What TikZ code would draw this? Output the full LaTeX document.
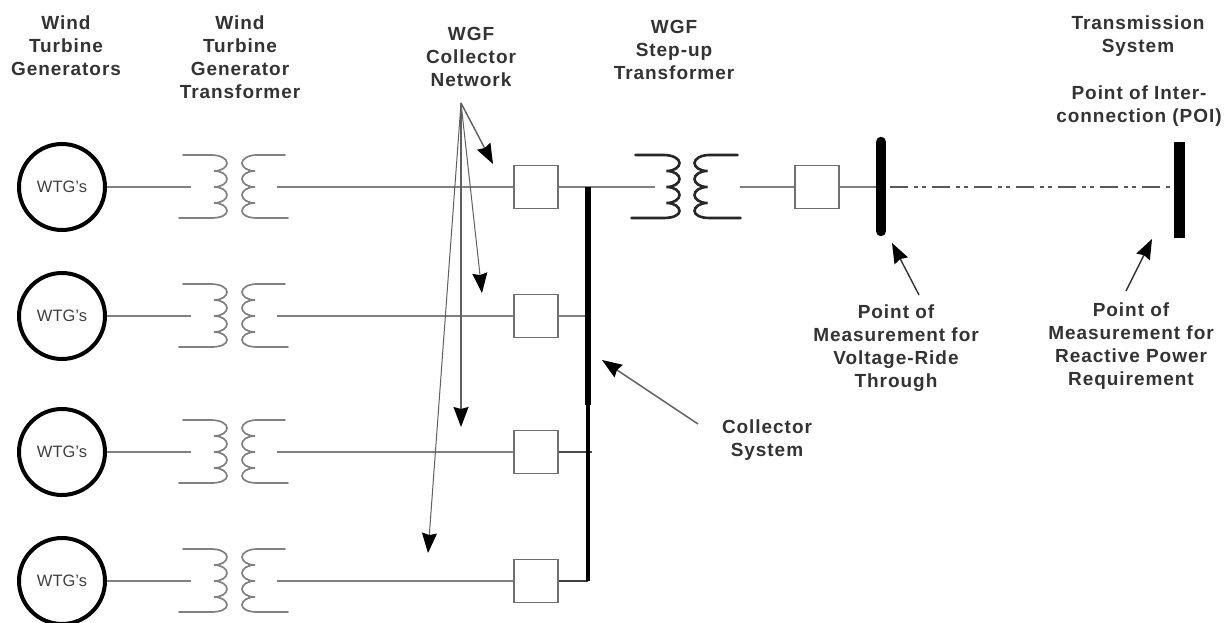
\documentclass[tikz,border=0pt]{standalone}
\usepackage{fontspec}
\setmainfont{Liberation Sans}
\newfontfamily\labelfont[LetterSpace=5]{Liberation Sans Bold}
\usetikzlibrary{arrows.meta}
\definecolor{txt}{HTML}{333333}
\definecolor{wire}{HTML}{808080}
\definecolor{boxline}{HTML}{707070}
\definecolor{arr}{HTML}{606060}
\tikzset{
  lab/.style={align=center,text=txt,font=\labelfont\fontsize{19}{23}\selectfont,inner sep=0pt},
  wtg/.style={circle,draw=black,line width=4pt,minimum size=86pt,inner sep=0pt,text=black!75,font=\fontsize{16.5}{18}\selectfont},
  brk/.style={draw=boxline,line width=1.8pt,fill=white,minimum width=44pt,minimum height=43pt,inner sep=0pt},
  wire line/.style={draw=wire,line width=1.8pt},
  pointer/.style={draw=arr,line width=1.4pt,-{Stealth[length=20pt,width=15pt,inset=2pt,color=black]}},
  thin pointer/.style={pointer,line width=1pt},
  coil/.pic={
    \draw[line cap=round,pic actions]
      (-52,-32) -- (-24,-32)
      .. controls (-14,-32) and (-8,-28) .. (-8,-24)
      .. controls (-8,-20) and (-13,-16) .. (-21,-16)
      .. controls (-13,-16) and (-8,-12) .. (-8,-8)
      .. controls (-8,-4) and (-13,0) .. (-21,0)
      .. controls (-13,0) and (-8,4) .. (-8,8)
      .. controls (-8,12) and (-13,16) .. (-21,16)
      .. controls (-13,16) and (-8,20) .. (-8,24)
      .. controls (-8,28) and (-14,31) .. (-24,31)
      -- (-56,31);
    \draw[line cap=round,pic actions]
      (50,-32) -- (22,-32)
      .. controls (13,-32) and (7,-28) .. (7,-24)
      .. controls (7,-20) and (12,-16) .. (20,-16)
      .. controls (12,-16) and (7,-12) .. (7,-8)
      .. controls (7,-4) and (12,0) .. (20,0)
      .. controls (12,0) and (7,4) .. (7,8)
      .. controls (7,12) and (12,16) .. (20,16)
      .. controls (12,16) and (7,20) .. (7,24)
      .. controls (7,28) and (13,31) .. (22,31)
      -- (53,31);
  },
  small coil/.style={draw=wire,line width=1.7pt},
  big coil/.style={draw=black!85,line width=2.6pt}
}
\begin{document}
\begin{tikzpicture}[x=1pt,y=-1pt]
\useasboundingbox[fill=white] (0,0) rectangle (1229,623);

% rows
\foreach \n/\y in {1/187,2/316,3/452,4/581}{
  \node[wtg] (g\n) at (62,\y) {WTG's};
  \pic[small coil] at (235,\y) {coil};
  \coordinate (ti\n) at (191,\y);
  \coordinate (to\n) at (277,\y);
  \node[brk] (b\n) at (536,\y) {};
  \coordinate (c\n) at (588,\y);
  \draw[wire line] (g\n.east) -- (ti\n);
  \draw[wire line] (to\n) -- (b\n.west);
}
\coordinate (cm) at (588,405);
\coordinate (c3s) at (592,452);

% step-up path
\pic[big coil] at (687.5,187) {coil};
\coordinate (si) at (655,187);
\coordinate (so) at (740,187);
\node[brk] (b5) at (817,187) {};
\coordinate (v) at (881,187);
\coordinate (vr) at (890,187);
\coordinate (p) at (1179,187);
\coordinate (pl) at (1172,187);
\coordinate (vt) at (881,142);
\coordinate (vb) at (881,231);
\coordinate (pt) at (1179,142);
\coordinate (pb) at (1179,238);

\draw[wire line] (b1.east) -- (si);
\draw[wire line] (b2.east) -- (c2);
\draw[wire line,draw=black!70] (b3.east) -- (c3s);
\draw[wire line,draw=black!75] (b4.east) -- (c4);
\draw[wire line] (so) -- (b5.west);
\draw[wire line] (b5.east) -- (v);
\draw[draw=black!65,line width=2.4pt,dash pattern=on 18pt off 6pt on 4pt off 4pt on 4pt off 6pt] (vr) -- (pl);

% buses
\draw[black,line width=6pt] (c1) -- (cm);
\draw[black,line width=4.5pt] (cm) -- (c4);
\draw[black,line width=10.5pt,line cap=round] (vt) -- (vb);
\draw[black,line width=11pt] (pt) -- (pb);

% labels
\node[lab] (l1) at (66,46) {Wind\\Turbine\\Generators};
\node[lab] (l2) at (240,57) {Wind\\Turbine\\Generator\\Transformer};
\node[lab] (l3) at (471,57) {WGF\\Collector\\Network};
\node[lab] (l4) at (674,50) {WGF\\Step-up\\Transformer};
\node[lab] (l5) at (1138,36) {Transmission\\System};
\node[lab] (l6) at (1139,106) {Point of Inter-\\connection (POI)};
\node[lab] (l7) at (896,348) {Point of\\Measurement for\\Voltage-Ride\\Through};
\node[lab] (l8) at (1131,346) {Point of\\Measurement for\\Reactive Power\\Requirement};
\node[lab] (l9) at (767,440) {Collector\\System};

% pointers
\coordinate (o) at (461,103);
\coordinate (a1) at (493,164);
\coordinate (a2) at (482,293);
\coordinate (a3) at (461,427);
\coordinate (a4) at (428,553);
\draw[pointer] (o) -- (a1);
\draw[thin pointer] (o) -- (a2);
\draw[pointer] (o) -- (a3);
\draw[thin pointer] (o) -- (a4);
\coordinate (cs) at (698,424);
\coordinate (ce) at (602,360);
\draw[pointer] (cs) -- (ce);
\coordinate (vs) at (919,295);
\coordinate (ve) at (892,243);
\draw[pointer,draw=black!80] (vs) -- (ve);
\coordinate (rs) at (1126,291);
\coordinate (re) at (1152,239);
\draw[pointer,draw=black!80] (rs) -- (re);
\end{tikzpicture}
\end{document}
